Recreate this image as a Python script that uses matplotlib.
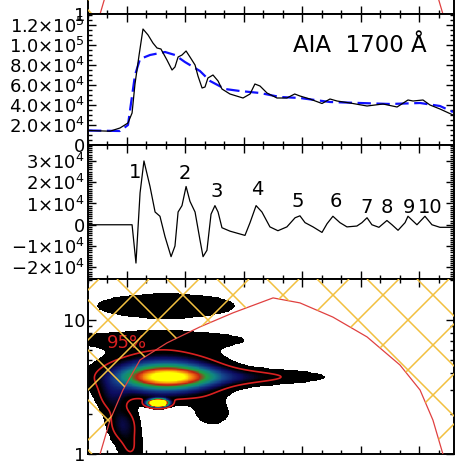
import numpy as np
import matplotlib
matplotlib.use('Agg')
import matplotlib.pyplot as plt
from matplotlib.collections import LineCollection
from matplotlib.patches import Polygon
from matplotlib.colors import LinearSegmentedColormap
from matplotlib.ticker import MultipleLocator, LogLocator, NullFormatter

# ---- light curve (AIA 1700), time in minutes
t_lc = [0, 1.13, 1.64, 2.05, 2.26, 2.41, 2.62, 2.82, 3.08, 3.33, 3.54, 3.74, 4.05, 4.31,
        4.46, 4.62, 4.82, 5.03, 5.23, 5.49, 5.64, 5.85, 6.0, 6.15, 6.41, 6.67, 6.87, 7.28,
        7.95, 8.31, 8.56, 8.82, 9.18, 9.69, 10.2, 10.6, 10.87, 11.38, 12.0, 12.41, 12.77,
        13.44, 14.31, 15.13, 15.85, 16.41, 16.67, 17.18, 17.54, 18.05, 18.72]
flux = [1.45, 1.38, 1.7, 2.2, 3.2, 6.1, 9.0, 11.6, 11.0, 10.2, 9.7, 9.6, 8.5, 7.5,
        7.8, 8.8, 9.0, 9.4, 8.8, 8.0, 6.9, 5.7, 5.8, 6.7, 7.0, 6.4, 5.6, 5.1,
        4.7, 5.1, 6.1, 5.9, 5.2, 4.7, 4.7, 5.1, 4.9, 4.6, 4.15, 4.6, 4.4,
        4.2, 3.9, 4.1, 3.8, 4.5, 4.4, 4.5, 4.0, 3.6, 3.0]
t_bg = [0, 1.64, 2.05, 2.41, 2.67, 3.18, 3.95, 4.46, 4.97, 5.74, 6.26, 7.03, 7.79,
        8.82, 9.85, 10.87, 12.41, 13.95, 15.49, 17.03, 18.05, 18.72]
flux_bg = [1.45, 1.4, 2.0, 7.0, 8.6, 9.0, 9.3, 9.0, 8.3, 7.4, 6.4, 5.6,
           5.4, 5.2, 4.8, 4.7, 4.3, 4.2, 4.1, 4.2, 3.9, 3.3]

# ---- detrended signal
t_dt = [0, 2.26, 2.46, 2.67, 2.87, 3.18, 3.44, 3.69, 3.95, 4.26, 4.46, 4.62, 4.82, 5.03,
        5.23, 5.49, 5.74, 5.9, 6.1, 6.31, 6.51, 6.67, 6.87, 7.28, 8.05, 8.31, 8.62, 8.92,
        9.33, 9.74, 10.2, 10.62, 10.87, 11.13, 11.54, 12.0, 12.26, 12.56, 12.92, 13.28,
        13.79, 14.05, 14.31, 14.56, 14.92, 15.33, 15.59, 15.9, 16.26, 16.41, 16.87, 17.28,
        17.64, 18.05, 18.72]
resid = [0, 0, -1.8, 1.5, 3.0, 1.8, 0.6, 0.4, -0.56, -1.5, -1.0, 0.6, 0.9, 1.8,
         1.1, 0.6, -0.7, -1.5, -1.2, 0.5, 0.9, 0.6, -0.14, -0.3, -0.5, 0.1, 0.9, 0.6,
         -0.1, -0.28, -0.1, 0.33, 0.42, 0.1, -0.1, -0.36, 0.05, 0.4, 0.1, -0.1,
         -0.06, 0.1, 0.33, 0, -0.12, 0.2, 0, -0.26, 0.1, 0.4, 0, 0.4,
         0, -0.12, -0.12]
peak_labels = ['1', '2', '3', '4', '5', '6', '7', '8', '9', '10']
peak_t = [2.41, 4.97, 6.62, 8.67, 10.77, 12.72, 14.31, 15.33, 16.46, 17.54]
peak_y = [2.44, 2.4, 1.55, 1.64, 1.08, 1.08, 0.8, 0.8, 0.8, 0.8]

# ---- wavelet power (blob components), period in minutes (log10)
#           core  envel tongue upper  top   tail1 tail2 tail3 spot  lowR
blob_t = [4.1, 3.9, 7.5, 3.5, 4.0, 1.2, 1.8, 2.2, 3.6, 6.4]
blob_logp = [0.575, 0.58, 0.575, 0.85, 1.105, 0.42, 0.22, 0.03, 0.38, 0.3]
blob_st = [1.2, 1.9, 3.25, 4.5, 3.44, 0.55, 0.55, 0.5, 0.28, 0.8]
blob_sp = [0.045, 0.1, 0.045, 0.06, 0.09, 0.09, 0.09, 0.09, 0.016, 0.08]
blob_amp = [0.6, 0.5, 0.14, 0.08, 0.085, 0.12, 0.17, 0.1, 3.0, 0.08]

# cone of influence
coi_t = [0.62, 1.13, 1.79, 2.67, 4.05, 5.74, 7.44, 9.49, 10.87, 12.56, 14.31, 16.0, 17.03, 17.69, 18.2]
coi_p = [1.0, 1.79, 3.0, 5.03, 6.74, 8.87, 11.3, 14.6, 13.4, 10.5, 7.47, 4.61, 3.0, 1.79, 1.0]

xmin, xmax = 0, 18.77
fig = plt.figure(figsize=(4.62, 4.62), dpi=100)
left, width = 88/462, 366/462

def style(ax):
    ax.set_xlim(xmin, xmax)
    ax.xaxis.set_minor_locator(MultipleLocator(1))
    ax.set_xticks([2, 5, 8, 11, 14, 17])
    ax.tick_params(which='both', direction='in', top=True, right=True,
                   labelbottom=False, labelsize=13, pad=2, width=1.0)
    ax.tick_params(which='major', length=5.8)
    ax.tick_params(which='minor', length=2.9)
    for s in ax.spines.values():
        s.set_linewidth(1.4)

def wavelet(ax, power=True):
    ax.set_yscale('log')
    ax.set_ylim(1, 20.2)
    ax.yaxis.set_minor_locator(LogLocator(base=10, subs=np.arange(2, 10)))
    ax.yaxis.set_minor_formatter(NullFormatter())
    ax.set_yticks([1, 10])
    ax.set_yticklabels(['1', '10'])
    if power:
        tt = np.linspace(xmin, xmax, 400)
        lp = np.linspace(0, 1.31, 300)
        T, L = np.meshgrid(tt, lp)
        P = np.zeros_like(T)
        for a, b, c, d, e in zip(blob_t, blob_logp, blob_st, blob_sp, blob_amp):
            P += e * np.exp(-0.5 * ((T - a) / c) ** 2 - 0.5 * ((L - b) / d) ** 2)
        cmap = LinearSegmentedColormap.from_list('wv', [
            (0.0, '#000000'), (0.09, '#000000'), (0.16, '#0c0c60'), (0.27, '#15448c'),
            (0.38, '#108585'), (0.52, '#20a040'), (0.66, '#c02010'), (0.8, '#f07010'),
            (1.0, '#ffff00')])
        cmap.set_under('white')
        cmap.set_over('#ffff00')
        ax.pcolormesh(tt, 10 ** lp, P, cmap=cmap, vmin=0.05, vmax=1.0, shading='auto', zorder=1)
        ax.contour(tt, 10 ** lp, P, levels=[0.11], colors='#d82020', linewidths=1.2, zorder=2)
        ax.text(2.0, 6.7, '95%', color='#d82020', fontsize=13, ha='center', va='center', zorder=2)
    # cone of influence + cross-hatching outside it
    ax.plot(coi_t, coi_p, color='#e04040', lw=0.9, zorder=3)
    verts = [(xmin, 1)] + list(zip(coi_t, coi_p)) + [(xmax, 1), (xmax, 100), (xmin, 100)]
    clip = Polygon(verts, closed=True, transform=ax.transData)
    bb = ax.get_position()
    W = bb.width * 462
    H = bb.height * 462
    segs = []
    for c in np.arange(11 - 50 * 10, W + H + 50, 50):
        segs.append([(c / W, 1), ((c - H) / W, 0)])
    for c in np.arange(29 - 50 * 10, W + 50, 50):
        segs.append([(c / W, 1), ((c + H) / W, 0)])
    lc = LineCollection(segs, colors='#f2c040', linewidths=1.1, transform=ax.transAxes, zorder=4)
    ax.add_collection(lc)
    lc.set_clip_path(clip)

# panel 1 (mostly cropped)
ax1 = fig.add_axes([left, (462 - 14) / 462, width, 175 / 462])
style(ax1)
wavelet(ax1, power=False)
ax1.set_yticks([1])
ax1.set_yticklabels(['1'])

# panel 2: light curve
ax2 = fig.add_axes([left, (462 - 145) / 462, width, 131 / 462])
style(ax2)
ax2.plot(t_lc, np.array(flux) * 1e4, color='k', lw=0.9, zorder=3)
ax2.plot(t_bg, np.array(flux_bg) * 1e4, color='#1010ff', lw=1.6, dashes=(6, 2.5), zorder=2)
ax2.set_ylim(0, 1.31e5)
ax2.set_yticks([0, 2e4, 4e4, 6e4, 8e4, 1e5, 1.2e5])
ax2.set_yticklabels(['0', r'$2.0{\times}10^{4}$', r'$4.0{\times}10^{4}$', r'$6.0{\times}10^{4}$',
                     r'$8.0{\times}10^{4}$', r'$1.0{\times}10^{5}$', r'$1.2{\times}10^{5}$'])
ax2.yaxis.set_minor_locator(MultipleLocator(5e3))
ax2.text(17.38, 1.0e5, u'AIA  1700 \u00c5', fontsize=16.5, ha='right', va='center')

# panel 3: detrended
ax3 = fig.add_axes([left, (462 - 279) / 462, width, 134 / 462])
style(ax3)
ax3.plot(t_dt, np.array(resid) * 1e4, color='k', lw=0.9)
ax3.set_ylim(-2.55e4, 3.75e4)
ax3.set_yticks([-2e4, -1e4, 0, 1e4, 2e4, 3e4])
ax3.set_yticklabels([u'$\u22122{\\times}10^{4}$', u'$\u22121{\\times}10^{4}$', '0',
                     r'$1{\times}10^{4}$', r'$2{\times}10^{4}$', r'$3{\times}10^{4}$'])
ax3.yaxis.set_minor_locator(MultipleLocator(1e3))
for lab, tx, ty in zip(peak_labels, peak_t, peak_y):
    ax3.text(tx, ty * 1e4, lab, fontsize=14, ha='center', va='center')

# panel 4: wavelet
ax4 = fig.add_axes([left, 8 / 462, width, 175 / 462])
style(ax4)
wavelet(ax4)

fig.savefig('out.png', dpi=100)
